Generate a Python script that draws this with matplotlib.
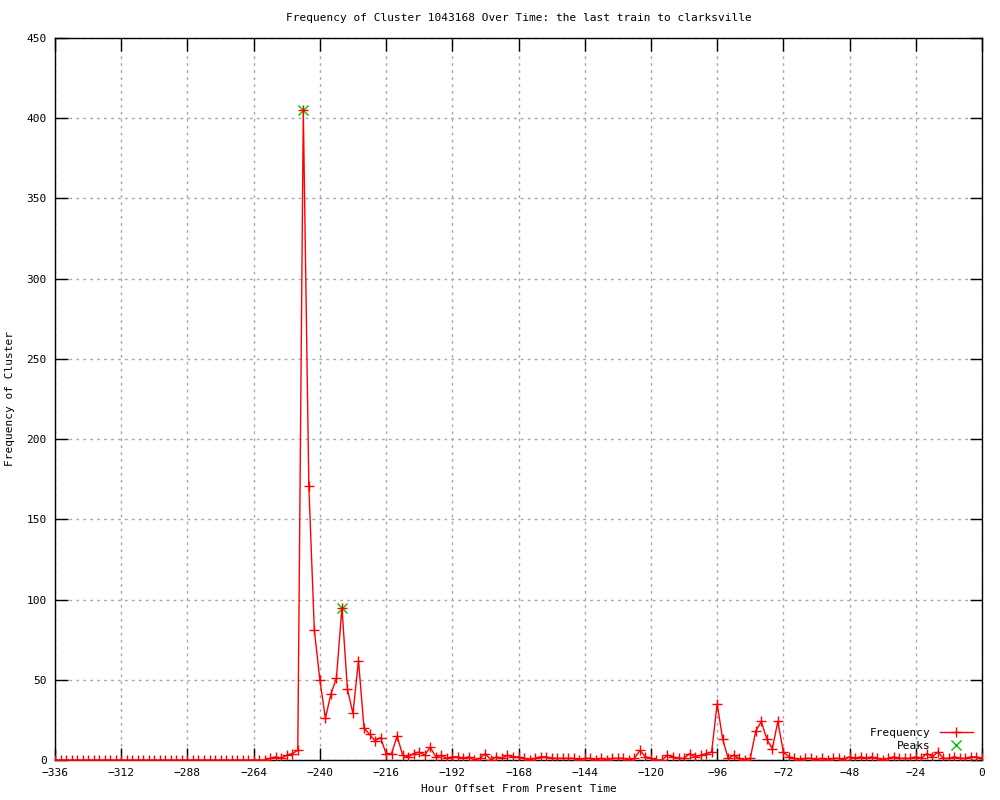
import numpy as np
import matplotlib
matplotlib.use('Agg')
import matplotlib.pyplot as plt

plt.rcParams['font.family'] = ['DejaVu Sans Mono']
plt.rcParams['font.size'] = 8

title = "Frequency of Cluster 1043168 Over Time: the last train to clarksville"

# hour offsets, one sample every 2 hours
hours = list(range(-336, 1, 2))

freq = (
    [0] * 38 +  # -336 .. -262
    [0, 1, 2, 1, 3, 4, 6, 405, 171, 81,          # -260 .. -242
     50, 26, 41, 51, 95, 44, 29, 62, 20, 16,      # -240 .. -222
     12, 14, 4, 4, 15, 3, 2, 4, 5, 3,             # -220 .. -202
     8, 2, 3, 1, 2, 2, 1, 2, 0, 1,                # -200 .. -182
     4, 0, 2, 1, 3, 2, 2, 1, 0, 1,                # -180 .. -162
     2, 2, 1, 1, 1, 1, 1, 0, 1, 1,                # -160 .. -142
     0, 1, 0, 1, 1, 1, 0, 1, 6, 2,                # -140 .. -122
     1, 0, 0, 3, 2, 1, 1, 4, 2, 3,                # -120 .. -102
     4, 5, 35, 13, 1, 3, 1, 0, 1, 18,             # -100 .. -82
     24, 13, 7, 24, 5, 2, 1] +                    # -80 .. -68
    [0, 1, 1, 0, 1, 0, 1, 1, 0, 2,                # -66 .. -48
     1, 2, 1, 2, 1, 0, 1, 2, 1, 1,                # -46 .. -28
     1, 2, 1, 4, 2, 5, 1, 1, 2, 1,                # -26 .. -8
     1, 2, 2, 1]                                  # -6 .. 0
)

peak_hours = [-246, -232]
peak_freq = [405, 95]

xticks = list(range(-336, 1, 24))
yticks = list(range(0, 451, 50))

fig = plt.figure(figsize=(10, 8), dpi=100)
ax = fig.add_axes([0.055, 0.05, 0.927, 0.9025])

ax.plot(peak_hours, peak_freq, ls='none', marker='x', ms=7, mew=1,
        color='#00c000', label='Peaks', zorder=2)
ax.plot(hours, freq, color='red', lw=1, marker='+', ms=7, mew=1,
        label='Frequency', zorder=3)

ax.set_xlim(-336, 0)
ax.set_ylim(0, 450)
ax.set_xticks(xticks)
ax.set_yticks(yticks)
ax.tick_params(direction='in', length=9, width=1, top=True, right=True,
               labelsize=8, pad=6)
ax.grid(True, color='#a8a8a8', ls=(0, (2, 3)), lw=1)
for s in ax.spines.values():
    s.set_linewidth(1)

ax.set_title(title, fontsize=8, pad=12)
ax.set_xlabel('Hour Offset From Present Time', fontsize=8, labelpad=4)
ax.set_ylabel('Frequency of Cluster', fontsize=8, labelpad=8)

handles, labels = ax.get_legend_handles_labels()
ax.legend(handles[::-1], labels[::-1], loc='lower right', markerfirst=False,
          frameon=False, fontsize=8, handlelength=3, borderaxespad=0.4,
          labelspacing=0.25)

fig.savefig('out.png', dpi=100)
